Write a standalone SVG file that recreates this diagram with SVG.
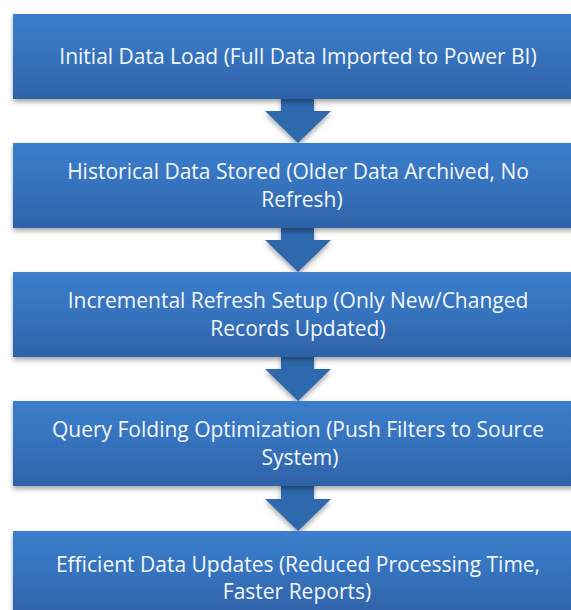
<svg xmlns="http://www.w3.org/2000/svg" width="571" height="610" viewBox="0 0 571 610">
<defs>
<linearGradient id="boxGrad" x1="0" y1="0" x2="0" y2="1">
<stop offset="0" stop-color="#3b7ecb"/>
<stop offset="0.5" stop-color="#3672bd"/>
<stop offset="1" stop-color="#2e62a7"/>
</linearGradient>
<filter id="shadow" x="-5%" y="-10%" width="110%" height="130%">
<feDropShadow dx="0" dy="3" stdDeviation="2.5" flood-color="#000" flood-opacity="0.35"/>
</filter>
</defs>
<style>
.box{fill:url(#boxGrad);filter:url(#shadow);}
.arrow{fill:#2f67ad;filter:url(#shadow);}
.lbl{font-family:"Open Sans","Noto Sans",sans-serif;font-size:21px;fill:#f4f7fc;text-anchor:middle;}
</style>
<g id="connectors">
<path class="arrow" d="M281,96 H314 V111 H331 L298,143 L265,111 H281 Z"/>
<path class="arrow" d="M281,225 H314 V240 H331 L298,272 L265,240 H281 Z"/>
<path class="arrow" d="M281,354 H314 V369 H331 L298,401 L265,369 H281 Z"/>
<path class="arrow" d="M281,483 H314 V499 H331 L298,531 L265,499 H281 Z"/>
</g>
<g id="node1">
<rect class="box" x="13" y="14" width="575" height="85"/>
<text class="lbl" x="298" y="64">Initial Data Load (Full Data Imported to Power BI)</text>
</g>
<g id="node2">
<rect class="box" x="13" y="143" width="575" height="85"/>
<text class="lbl" x="298" y="179">Historical Data Stored (Older Data Archived, No</text>
<text class="lbl" x="302" y="207">Refresh)</text>
</g>
<g id="node3">
<rect class="box" x="13" y="272" width="575" height="85"/>
<text class="lbl" x="298" y="308">Incremental Refresh Setup (Only New/Changed</text>
<text class="lbl" x="298" y="336">Records Updated)</text>
</g>
<g id="node4">
<rect class="box" x="13" y="401" width="575" height="85"/>
<text class="lbl" x="298" y="437">Query Folding Optimization (Push Filters to Source</text>
<text class="lbl" x="300" y="465">System)</text>
</g>
<g id="node5">
<rect class="box" x="13" y="531" width="575" height="85"/>
<text class="lbl" x="298" y="572">Efficient Data Updates (Reduced Processing Time,</text>
<text class="lbl" x="297" y="599">Faster Reports)</text>
</g>
</svg>
